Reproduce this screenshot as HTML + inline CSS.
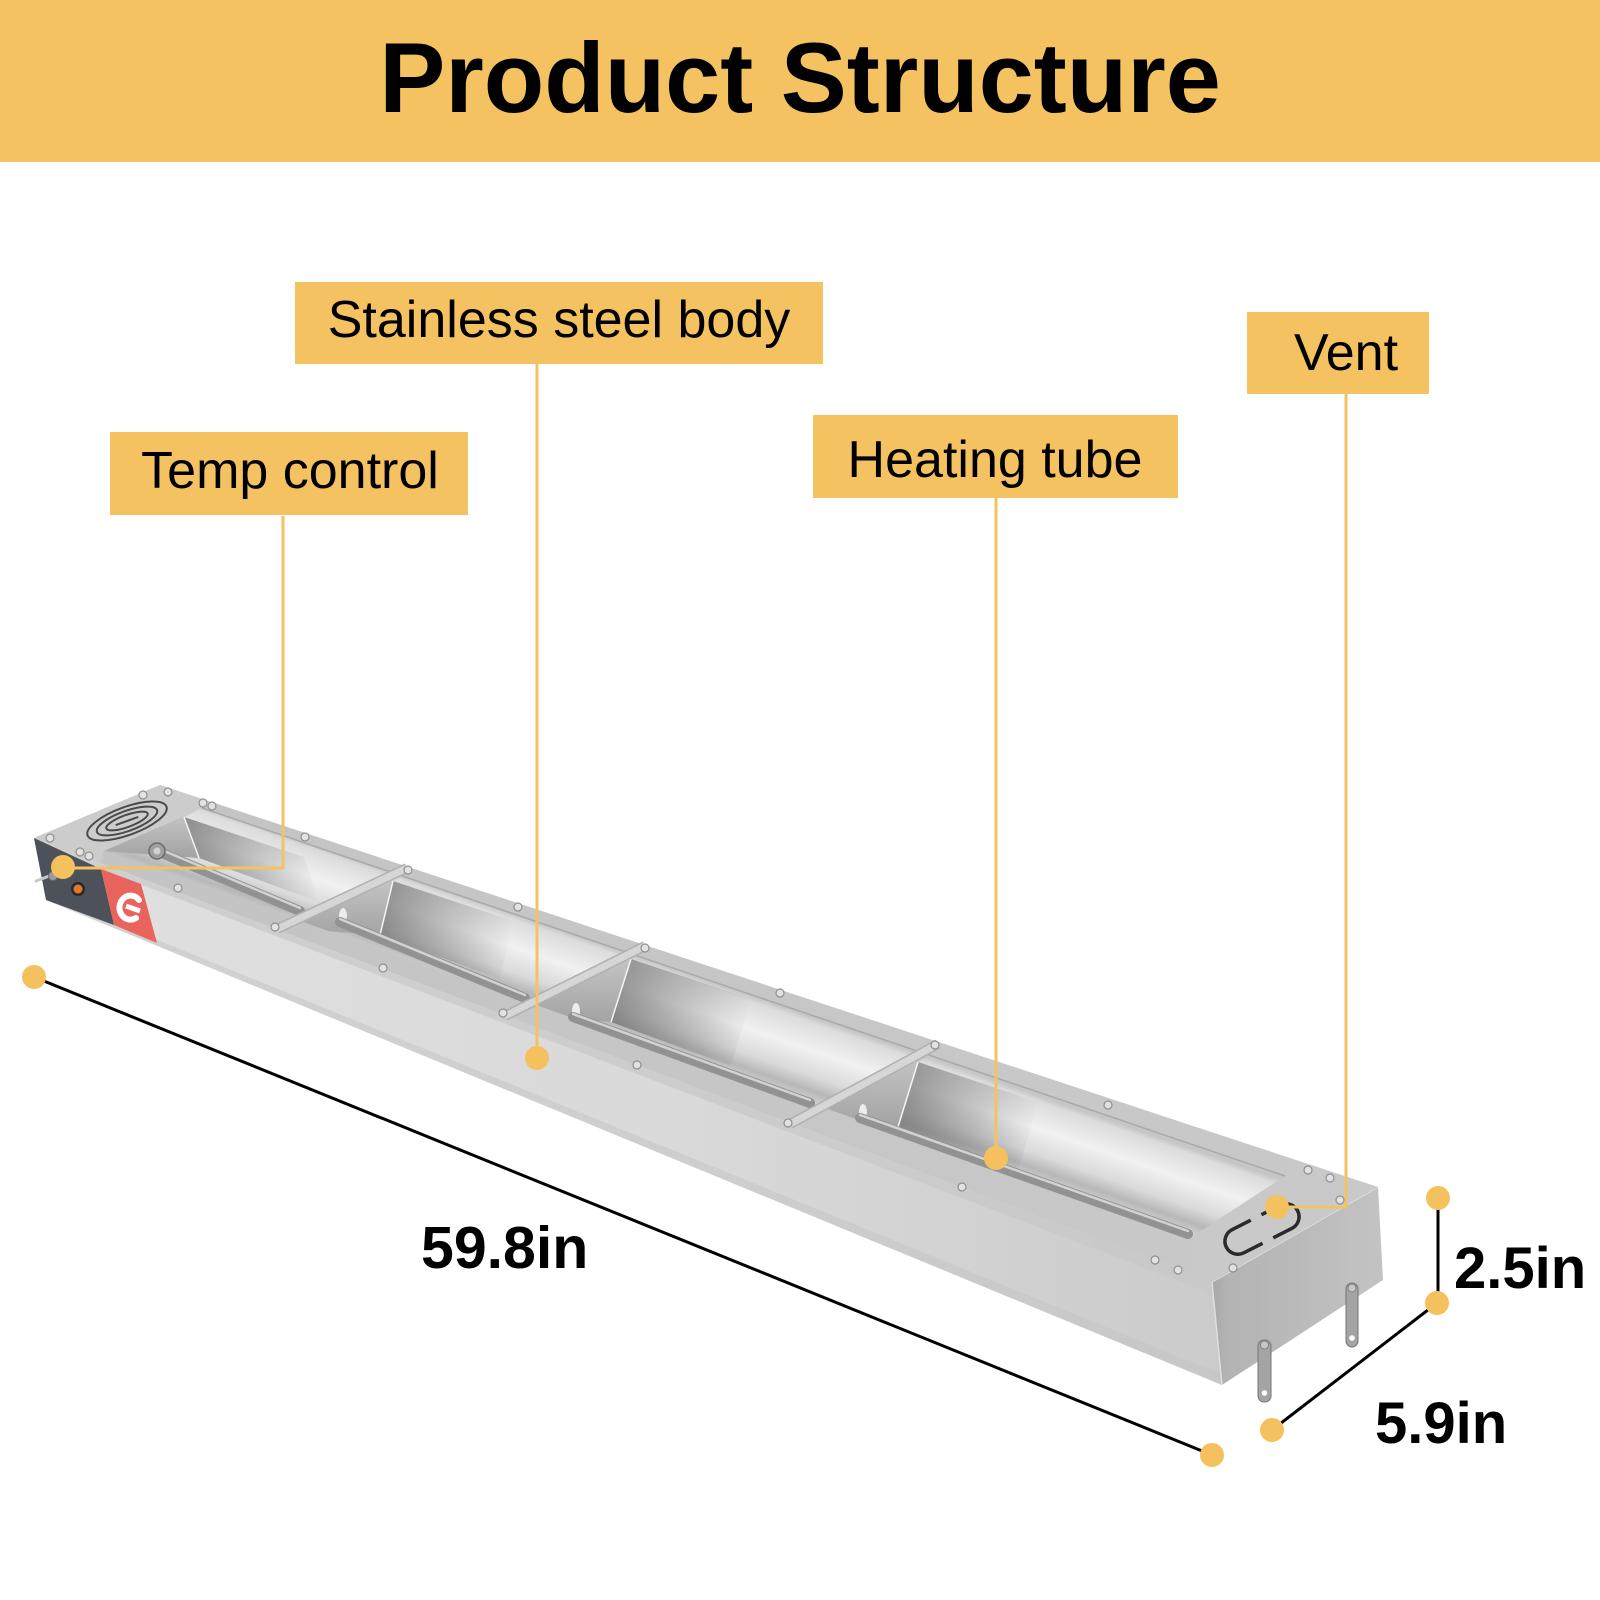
<!DOCTYPE html>
<html>
<head>
<meta charset="utf-8">
<style>
  html,body{margin:0;padding:0;background:#fff;}
  svg{display:block;}
  text{font-family:"Liberation Sans", Arial, sans-serif;}
</style>
</head>
<body>
<svg width="1600" height="1600" viewBox="0 0 1600 1600" xmlns="http://www.w3.org/2000/svg">
  <defs>
    <linearGradient id="fl" gradientUnits="userSpaceOnUse" x1="34" y1="0" x2="1222" y2="0">
      <stop offset="0" stop-color="#e0e0e0"/>
      <stop offset="0.55" stop-color="#d9d9d9"/>
      <stop offset="1" stop-color="#cbcbcb"/>
    </linearGradient>
    <linearGradient id="eg" gradientUnits="userSpaceOnUse" x1="1212" y1="0" x2="1383" y2="0">
      <stop offset="0" stop-color="#a7a7a7"/>
      <stop offset="0.08" stop-color="#b3b3b3"/>
      <stop offset="1" stop-color="#c3c3c3"/>
    </linearGradient>
    <linearGradient id="tg" gradientUnits="userSpaceOnUse" x1="160" y1="0" x2="1378" y2="0">
      <stop offset="0" stop-color="#c4c4c4"/>
      <stop offset="1" stop-color="#c9c9c9"/>
    </linearGradient>
    <linearGradient id="og" gradientUnits="userSpaceOnUse" x1="650" y1="961" x2="624" y2="1036">
      <stop offset="0" stop-color="#c6c6c6"/>
      <stop offset="0.07" stop-color="#dcdcdc"/>
      <stop offset="0.4" stop-color="#f1f1f1"/>
      <stop offset="0.7" stop-color="#dadada"/>
      <stop offset="0.88" stop-color="#b7b7b7"/>
      <stop offset="1" stop-color="#cdcdcd"/>
    </linearGradient>
    <linearGradient id="sh" x1="0" y1="0" x2="1" y2="0">
      <stop offset="0" stop-color="#777777" stop-opacity="0.8"/>
      <stop offset="1" stop-color="#777777" stop-opacity="0"/>
    </linearGradient>
    <linearGradient id="wg" x1="0" y1="0" x2="0" y2="1">
      <stop offset="0" stop-color="#c9c9c9"/>
      <stop offset="1" stop-color="#a3a3a3"/>
    </linearGradient>
    <clipPath id="op">
      <polygon points="202,808 1285,1176 1190,1238 104,851"/>
    </clipPath>
  </defs>

  <rect x="0" y="0" width="1600" height="1600" fill="#ffffff"/>

  <!-- Header -->
  <rect x="0" y="0" width="1600" height="162" fill="#F5C262"/>
  <text x="800" y="112" text-anchor="middle" font-size="99" font-weight="bold" fill="#000">Product Structure</text>

  <!-- ===== Product ===== -->
  <!-- front face -->
  <polygon points="34,838 1212,1282 1222,1385 46,900" fill="url(#fl)"/>
  <!-- top shade band -->
  <polygon points="34,838 1212,1282 1213,1294 35,844" fill="#c8c8c8" opacity="0.7"/>
  <!-- bottom shade band -->
  <polygon points="45,894 1221,1374 1222,1385 46,900" fill="#c4c4c4" opacity="0.5"/>
  <!-- dark control panel -->
  <polygon points="34,838 101,869 114,925 46,900" fill="#4d5159"/>
  <!-- red label -->
  <polygon points="101,869 141,884 157,943 114,925" fill="#E8645C"/>
  <path d="M139,900 A11,12 0 1 0 136,918" fill="none" stroke="#ffffff" stroke-width="6" stroke-linecap="round"/>
  <line x1="126" y1="906" x2="140" y2="911" stroke="#ffffff" stroke-width="5"/>
  <!-- switch & indicator -->
  <line x1="52" y1="875" x2="36" y2="881" stroke="#c9c9c9" stroke-width="3" stroke-linecap="round"/>
  <circle cx="53" cy="876" r="4.5" fill="#9a9a9a" stroke="#6a6a6a" stroke-width="1"/>
  <circle cx="78" cy="889" r="7" fill="#2a2a2a"/>
  <circle cx="78" cy="889" r="4.5" fill="#e07a2a"/>

  <!-- right end face -->
  <polygon points="1212,1282 1378,1187 1383,1280 1222,1385" fill="url(#eg)"/>
  <line x1="1212" y1="1282" x2="1378" y2="1187" stroke="#e4e4e4" stroke-width="1.5"/>
  <line x1="1212" y1="1282" x2="1222" y2="1385" stroke="#dedede" stroke-width="1.5"/>

  <!-- legs -->
  <g>
    <rect x="1258" y="1340" width="13" height="62" rx="6" fill="#a4a4a4" stroke="#767676" stroke-width="1"/>
    <circle cx="1264.5" cy="1393" r="2.8" fill="#ffffff"/>
    <circle cx="1264.5" cy="1345" r="4" fill="#c8c8c8" stroke="#808080" stroke-width="1"/>
    <rect x="1346" y="1283" width="12" height="64" rx="6" fill="#a4a4a4" stroke="#767676" stroke-width="1"/>
    <circle cx="1352" cy="1338" r="2.8" fill="#ffffff"/>
    <circle cx="1352" cy="1288" r="4" fill="#c8c8c8" stroke="#808080" stroke-width="1"/>
  </g>

  <!-- top surface -->
  <polygon points="160,785 1378,1187 1212,1282 34,838" fill="url(#tg)"/>
  <!-- left cover plate -->
  <polygon points="160,785 214,803 202,808 104,851 100,863 34,838" fill="#cccccc"/>
  <!-- right cover plate -->
  <polygon points="1296,1161 1378,1187 1212,1282 1190,1274 1190,1238 1285,1176" fill="#c9c9c9"/>

  <!-- opening -->
  <polygon points="202,808 1285,1176 1190,1238 104,851" fill="url(#og)"/>
  <g clip-path="url(#op)">
    <polygon points="184,817 304,857 319,902 199,858" fill="url(#sh)"/>
    <polygon points="202,808 184,817 199,858 104,851" fill="url(#wg)"/>
    <line x1="184" y1="817" x2="199" y2="858" stroke="#f4f4f4" stroke-width="1.5"/>
    <polygon points="393,881 513,921 500,979 380,935" fill="url(#sh)"/>
    <polygon points="413,872 393,881 380,935 283,928" fill="url(#wg)"/>
    <line x1="393" y1="881" x2="380" y2="935" stroke="#f4f4f4" stroke-width="1.5"/>
    <polygon points="631,959 751,999 731,1066 611,1022" fill="url(#sh)"/>
    <polygon points="651,949 631,959 611,1022 511,1015" fill="url(#wg)"/>
    <line x1="631" y1="959" x2="611" y2="1022" stroke="#f4f4f4" stroke-width="1.5"/>
    <polygon points="918,1062 1038,1102 1018,1171 898,1127" fill="url(#sh)"/>
    <polygon points="944,1047 918,1062 898,1127 795,1123" fill="url(#wg)"/>
    <line x1="918" y1="1062" x2="898" y2="1127" stroke="#f4f4f4" stroke-width="1.5"/>
  </g>
  <line x1="202" y1="808" x2="1285" y2="1176" stroke="#a9a9a9" stroke-width="1.5"/>

  <!-- tube holders -->
  <ellipse cx="343" cy="916" rx="4" ry="8" fill="#ececec"/>
  <ellipse cx="576" cy="1011" rx="4" ry="8" fill="#ececec"/>
  <ellipse cx="863" cy="1112" rx="4" ry="8" fill="#ececec"/>

  <!-- tubes -->
  <g stroke-linecap="round">
    <line x1="157" y1="851" x2="300" y2="911" stroke="#929292" stroke-width="10"/>
    <line x1="157" y1="848" x2="300" y2="908" stroke="#d2d2d2" stroke-width="2.5"/>
    <line x1="340" y1="922" x2="525" y2="998" stroke="#929292" stroke-width="10"/>
    <line x1="340" y1="919" x2="525" y2="995" stroke="#d2d2d2" stroke-width="2.5"/>
    <line x1="573" y1="1017" x2="810" y2="1103" stroke="#929292" stroke-width="10"/>
    <line x1="573" y1="1014" x2="810" y2="1100" stroke="#d2d2d2" stroke-width="2.5"/>
    <line x1="860" y1="1118" x2="1188" y2="1234" stroke="#929292" stroke-width="10"/>
    <line x1="860" y1="1115" x2="1188" y2="1231" stroke="#d2d2d2" stroke-width="2.5"/>
  </g>
  <circle cx="157" cy="851" r="8" fill="#a0a0a0" stroke="#6a6a6a" stroke-width="1.5"/>
  <circle cx="157" cy="851" r="3.5" fill="#d0d0d0"/>

  <!-- dividers -->
  <g>
    <line x1="407" y1="868" x2="277" y2="929" stroke="#b0b0b0" stroke-width="10"/>
    <line x1="407" y1="868" x2="277" y2="929" stroke="#d6d6d6" stroke-width="7"/>
    <line x1="645" y1="946" x2="505" y2="1016" stroke="#b0b0b0" stroke-width="10"/>
    <line x1="645" y1="946" x2="505" y2="1016" stroke="#d6d6d6" stroke-width="7"/>
    <line x1="938" y1="1044" x2="790" y2="1124" stroke="#b0b0b0" stroke-width="10"/>
    <line x1="938" y1="1044" x2="790" y2="1124" stroke="#d6d6d6" stroke-width="7"/>
  </g>

  <!-- left vent grill -->
  <g transform="translate(127,821) rotate(-20)" fill="none" stroke="#4a4a4a" stroke-width="2">
    <ellipse cx="0" cy="0" rx="42" ry="14"/>
    <ellipse cx="0" cy="0" rx="32" ry="10"/>
    <ellipse cx="0" cy="0" rx="22" ry="6"/>
    <line x1="-12" y1="0" x2="12" y2="0"/>
  </g>

  <!-- right vent slot -->
  <g transform="translate(1262,1229) rotate(-27)" fill="none" stroke="#2a2a2a" stroke-width="3.5">
    <path d="M -6 -13 H -27 A 13 13 0 0 0 -27 13 H -6"/>
    <path d="M 6 -13 H 27 A 13 13 0 0 1 27 13 H 6"/>
  </g>

  <!-- screws -->
  <g fill="#e2e2e2" stroke="#8f8f8f" stroke-width="1.2">
    <circle cx="50" cy="838" r="4"/>
    <circle cx="80" cy="852" r="4"/>
    <circle cx="89" cy="856" r="4"/>
    <circle cx="143" cy="795" r="4"/>
    <circle cx="168" cy="792" r="4"/>
    <circle cx="203" cy="803" r="4"/>
    <circle cx="212" cy="806" r="4"/>
    <circle cx="305" cy="837" r="4"/>
    <circle cx="408" cy="870" r="4"/>
    <circle cx="178" cy="888" r="4"/>
    <circle cx="275" cy="927" r="4"/>
    <circle cx="518" cy="907" r="4"/>
    <circle cx="383" cy="968" r="4"/>
    <circle cx="503" cy="1013" r="4"/>
    <circle cx="645" cy="948" r="4"/>
    <circle cx="780" cy="993" r="4"/>
    <circle cx="637" cy="1065" r="4"/>
    <circle cx="935" cy="1045" r="4"/>
    <circle cx="788" cy="1123" r="4"/>
    <circle cx="1108" cy="1105" r="4"/>
    <circle cx="962" cy="1187" r="4"/>
    <circle cx="1155" cy="1260" r="4"/>
    <circle cx="1178" cy="1270" r="4"/>
    <circle cx="1233" cy="1268" r="4"/>
    <circle cx="1308" cy="1170" r="4"/>
    <circle cx="1330" cy="1178" r="4"/>
    <circle cx="1340" cy="1200" r="4"/>
  </g>

  <!-- ===== Dimension lines ===== -->
  <g stroke="#000" stroke-width="3" fill="none">
    <line x1="34" y1="977" x2="1212" y2="1455"/>
    <line x1="1437" y1="1303" x2="1272" y2="1430"/>
    <line x1="1438" y1="1198" x2="1438" y2="1303"/>
  </g>

  <!-- ===== Connector lines ===== -->
  <g stroke="#F4C262" stroke-width="3" fill="none">
    <polyline points="283,516 283,868 63,868"/>
    <line x1="537" y1="364" x2="537" y2="1058"/>
    <line x1="996" y1="498" x2="996" y2="1158"/>
    <polyline points="1346,394 1346,1207 1277,1207"/>
  </g>

  <!-- dots -->
  <g fill="#F4C15E">
    <circle cx="63" cy="867" r="12"/>
    <circle cx="537" cy="1058" r="12"/>
    <circle cx="996" cy="1158" r="12"/>
    <circle cx="1277" cy="1207" r="12"/>
    <circle cx="34" cy="977" r="12"/>
    <circle cx="1212" cy="1455" r="12"/>
    <circle cx="1272" cy="1430" r="12"/>
    <circle cx="1437" cy="1303" r="12"/>
    <circle cx="1438" cy="1198" r="12"/>
  </g>

  <!-- label boxes -->
  <rect x="295" y="282" width="528" height="82" fill="#F5C262"/>
  <text x="559" y="337" text-anchor="middle" font-size="52" fill="#000">Stainless steel body</text>

  <rect x="110" y="432" width="358" height="83" fill="#F5C262"/>
  <text x="290" y="488" text-anchor="middle" font-size="52" fill="#000">Temp control</text>

  <rect x="813" y="415" width="365" height="83" fill="#F5C262"/>
  <text x="995" y="477" text-anchor="middle" font-size="52" fill="#000">Heating tube</text>

  <rect x="1247" y="312" width="182" height="82" fill="#F5C262"/>
  <text x="1346" y="370" text-anchor="middle" font-size="52" fill="#000">Vent</text>

  <!-- dimension labels -->
  <text x="421" y="1268" font-size="59" font-weight="bold" fill="#000">59.8in</text>
  <text x="1454" y="1288" font-size="58" font-weight="bold" fill="#000">2.5in</text>
  <text x="1375" y="1443" font-size="58" font-weight="bold" fill="#000">5.9in</text>
</svg>
</body>
</html>
